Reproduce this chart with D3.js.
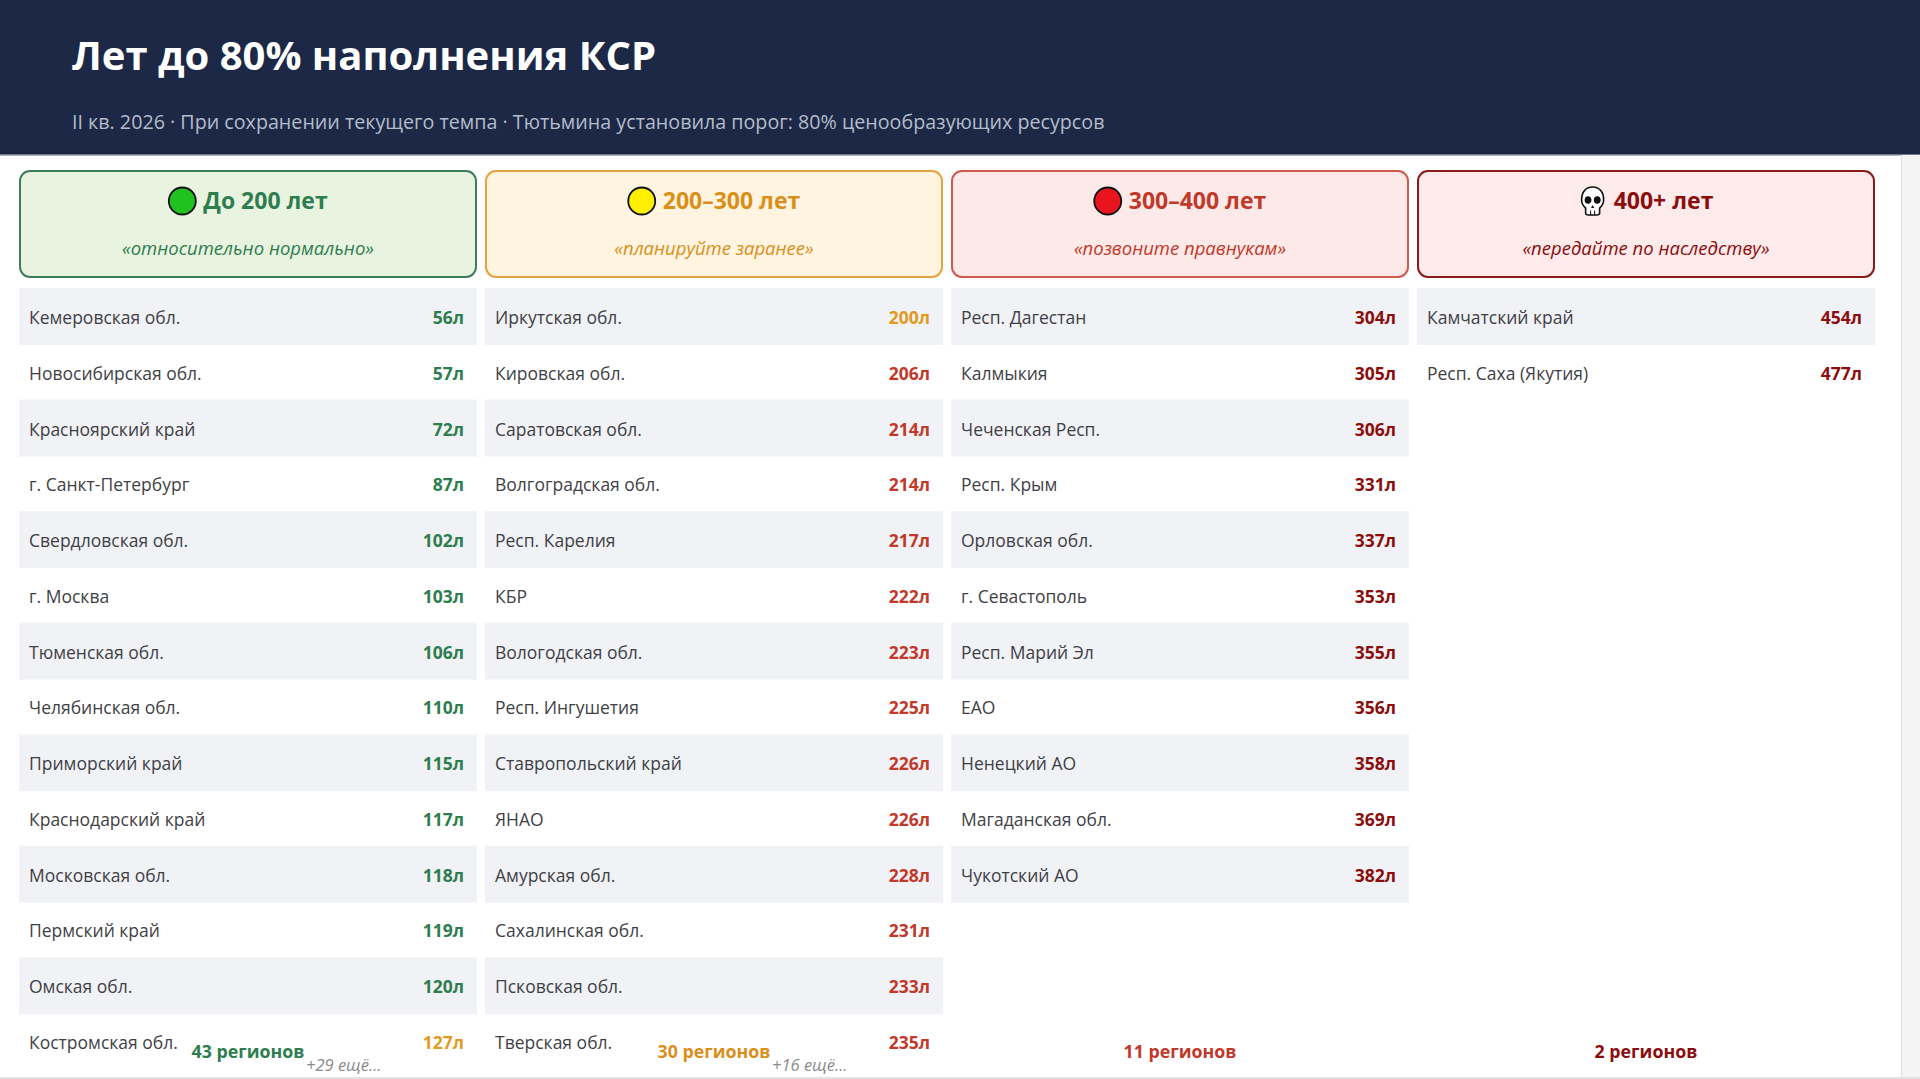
<!DOCTYPE html>
<html><head><meta charset="utf-8">
<script src="https://cdn.jsdelivr.net/npm/d3@7"></script>
<style>
html,body{margin:0;padding:0;background:#fff;overflow:hidden;}
svg{display:block;font-family:"Open Sans","Noto Sans",sans-serif;}
</style></head>
<body><svg id="c" width="1920" height="1079"></svg>
<script>
const titleText = "Лет до 80% наполнения КСР";
const subtitleText = "II кв. 2026 · При сохранении текущего темпа · Тютьмина установила порог: 80% ценообразующих ресурсов";

const groupKeys = ["g1","g2","g3","g4"];
const groupTitles = ["До 200 лет","200–300 лет","300–400 лет","400+ лет"];
const groupQuotes = ["«относительно нормально»","«планируйте заранее»","«позвоните правнукам»","«передайте по наследству»"];
const groupCounts = [43, 30, 11, 2];
const groupMore = [29, 16, 0, 0];

const names1 = ["Кемеровская обл.","Новосибирская обл.","Красноярский край","г. Санкт-Петербург","Свердловская обл.","г. Москва","Тюменская обл.","Челябинская обл.","Приморский край","Краснодарский край","Московская обл.","Пермский край","Омская обл.","Костромская обл."];
const values1 = [56,57,72,87,102,103,106,110,115,117,118,119,120,127];
const names2 = ["Иркутская обл.","Кировская обл.","Саратовская обл.","Волгоградская обл.","Респ. Карелия","КБР","Вологодская обл.","Респ. Ингушетия","Ставропольский край","ЯНАО","Амурская обл.","Сахалинская обл.","Псковская обл.","Тверская обл."];
const values2 = [200,206,214,214,217,222,223,225,226,226,228,231,233,235];
const names3 = ["Респ. Дагестан","Калмыкия","Чеченская Респ.","Респ. Крым","Орловская обл.","г. Севастополь","Респ. Марий Эл","ЕАО","Ненецкий АО","Магаданская обл.","Чукотский АО"];
const values3 = [304,305,306,331,337,353,355,356,358,369,382];
const names4 = ["Камчатский край","Респ. Саха (Якутия)"];
const values4 = [454,477];

const groupNames = [names1,names2,names3,names4];
const groupValues = [values1,values2,values3,values4];

const theme = [
  {bg:"#e9f4e0", border:"#3f7d58", text:"#2e7d4f", dot:"#1fc21f"},
  {bg:"#fff4e0", border:"#e3a43e", text:"#d98f1a", dot:"#ffee00"},
  {bg:"#fde9e7", border:"#cf5a4e", text:"#c0392b", dot:"#e8141e"},
  {bg:"#fdeaea", border:"#8b1a1a", text:"#8b0d0d", dot:null}
];
function valueColor(v){
  if (v < 125) return "#2e7d4f";
  if (v <= 200) return "#e09a1e";
  if (v < 300) return "#c0392b";
  return "#8b0d0d";
}

const svg = d3.select("#c");

// header
svg.append("rect").attr("x",0).attr("y",0).attr("width",1920).attr("height",155).attr("fill","#1c2846");
svg.append("rect").attr("x",0).attr("y",154).attr("width",1920).attr("height",1.5).attr("fill","#6b7588");
svg.append("text").attr("x",72).attr("y",70).attr("fill","#fff").attr("font-size",40).attr("font-weight",700).text(titleText);
svg.append("text").attr("x",72).attr("y",129).attr("fill","#b4bccb").attr("font-size",19.7).text(subtitleText);

// right edge / bottom page edge
svg.append("rect").attr("x",1902).attr("y",155).attr("width",18).attr("height",924).attr("fill","#f4f4f4");
svg.append("rect").attr("x",1901).attr("y",155).attr("width",1).attr("height",924).attr("fill","#dcdcdc");
svg.append("rect").attr("x",0).attr("y",1077).attr("width",1920).attr("height",2).attr("fill","#e2e2e2");

const x = d3.scaleBand().domain(groupKeys).range([19,1875]).paddingInner(8/466).paddingOuter(0);
const bw = x.bandwidth();
const maxRows = 14;
const y = d3.scaleLinear().domain([0, maxRows-1]).range([318, 1043]);

const cols = svg.selectAll("g.col").data(groupKeys).join("g").attr("class","col")
  .attr("transform", d => `translate(${x(d)},0)`);

// cards
cols.append("rect").attr("x",1).attr("y",171).attr("width",bw-2).attr("height",106).attr("rx",10)
  .attr("fill",(d,i)=>theme[i].bg).attr("stroke",(d,i)=>theme[i].border).attr("stroke-width",2);

cols.each(function(d,i){
  const g = d3.select(this);
  const t = g.append("text").attr("y",209).attr("font-size",23).attr("font-weight",700)
    .attr("fill",theme[i].text).text(groupTitles[i]);
  const tw = t.node().getComputedTextLength();
  const iconW = 28, gap = 7;
  const start = bw/2 - (iconW + gap + tw)/2;
  t.attr("x", start + iconW + gap);
  const cx = start + iconW/2, cy = 201;
  if (theme[i].dot) {
    g.append("circle").attr("cx",cx).attr("cy",cy).attr("r",13.5)
      .attr("fill",theme[i].dot).attr("stroke","#111").attr("stroke-width",1.8);
  } else {
    const s = g.append("g").attr("transform",`translate(${cx},${cy})`);
    s.append("path").attr("d","M-11,-1 C-11,-10 -6,-14 0,-14 C6,-14 11,-10 11,-1 C11,4 8,6 7,7 L7,12 C7,14 5,14 4,14 L-4,14 C-5,14 -7,14 -7,12 L-7,7 C-8,6 -11,4 -11,-1 Z")
      .attr("fill","#fff").attr("stroke","#111").attr("stroke-width",1.6);
    s.append("ellipse").attr("cx",-4.6).attr("cy",-1).attr("rx",3.4).attr("ry",3.8).attr("fill","#111");
    s.append("ellipse").attr("cx",4.6).attr("cy",-1).attr("rx",3.4).attr("ry",3.8).attr("fill","#111");
    s.append("path").attr("d","M0,4 L-1.6,7 L1.6,7 Z").attr("fill","#111");
    s.append("line").attr("x1",-2).attr("y1",9.5).attr("x2",-2).attr("y2",14).attr("stroke","#111").attr("stroke-width",1);
    s.append("line").attr("x1",2).attr("y1",9.5).attr("x2",2).attr("y2",14).attr("stroke","#111").attr("stroke-width",1);
  }
  g.append("text").attr("x",bw/2).attr("y",255).attr("text-anchor","middle").attr("font-size",18.5)
    .attr("font-style","italic").attr("fill",theme[i].text).text(groupQuotes[i]);

  // rows
  const rows = groupNames[i].map((n,k)=>({name:n, value:groupValues[i][k], k}));
  const rg = g.selectAll("g.row").data(rows).join("g").attr("class","row")
    .attr("transform", r => `translate(0,${y(r.k)})`);
  rg.filter(r => r.k % 2 === 0).append("rect").attr("x",0).attr("y",-30).attr("width",bw).attr("height",57)
    .attr("fill","#f0f2f5");
  rg.append("text").attr("x",10).attr("y",6).attr("font-size",17.5).attr("fill","#3f3f46").text(r=>r.name);
  rg.append("text").attr("x",bw-13).attr("y",6).attr("text-anchor","end").attr("font-size",17.5)
    .attr("font-weight",700).attr("fill",r=>valueColor(r.value)).text(r=>r.value+"л");

  // footer
  g.append("text").attr("x",bw/2).attr("y",1058).attr("text-anchor","middle").attr("font-size",17.8)
    .attr("font-weight",700).attr("fill",theme[i].text).text(groupCounts[i]+" регионов");
  if (groupMore[i] > 0) {
    g.append("text").attr("x",287).attr("y",1071).attr("font-size",16.5).attr("font-style","italic")
      .attr("fill","#8a8a8a").text("+"+groupMore[i]+" ещё...");
  }
});
</script></body></html>
